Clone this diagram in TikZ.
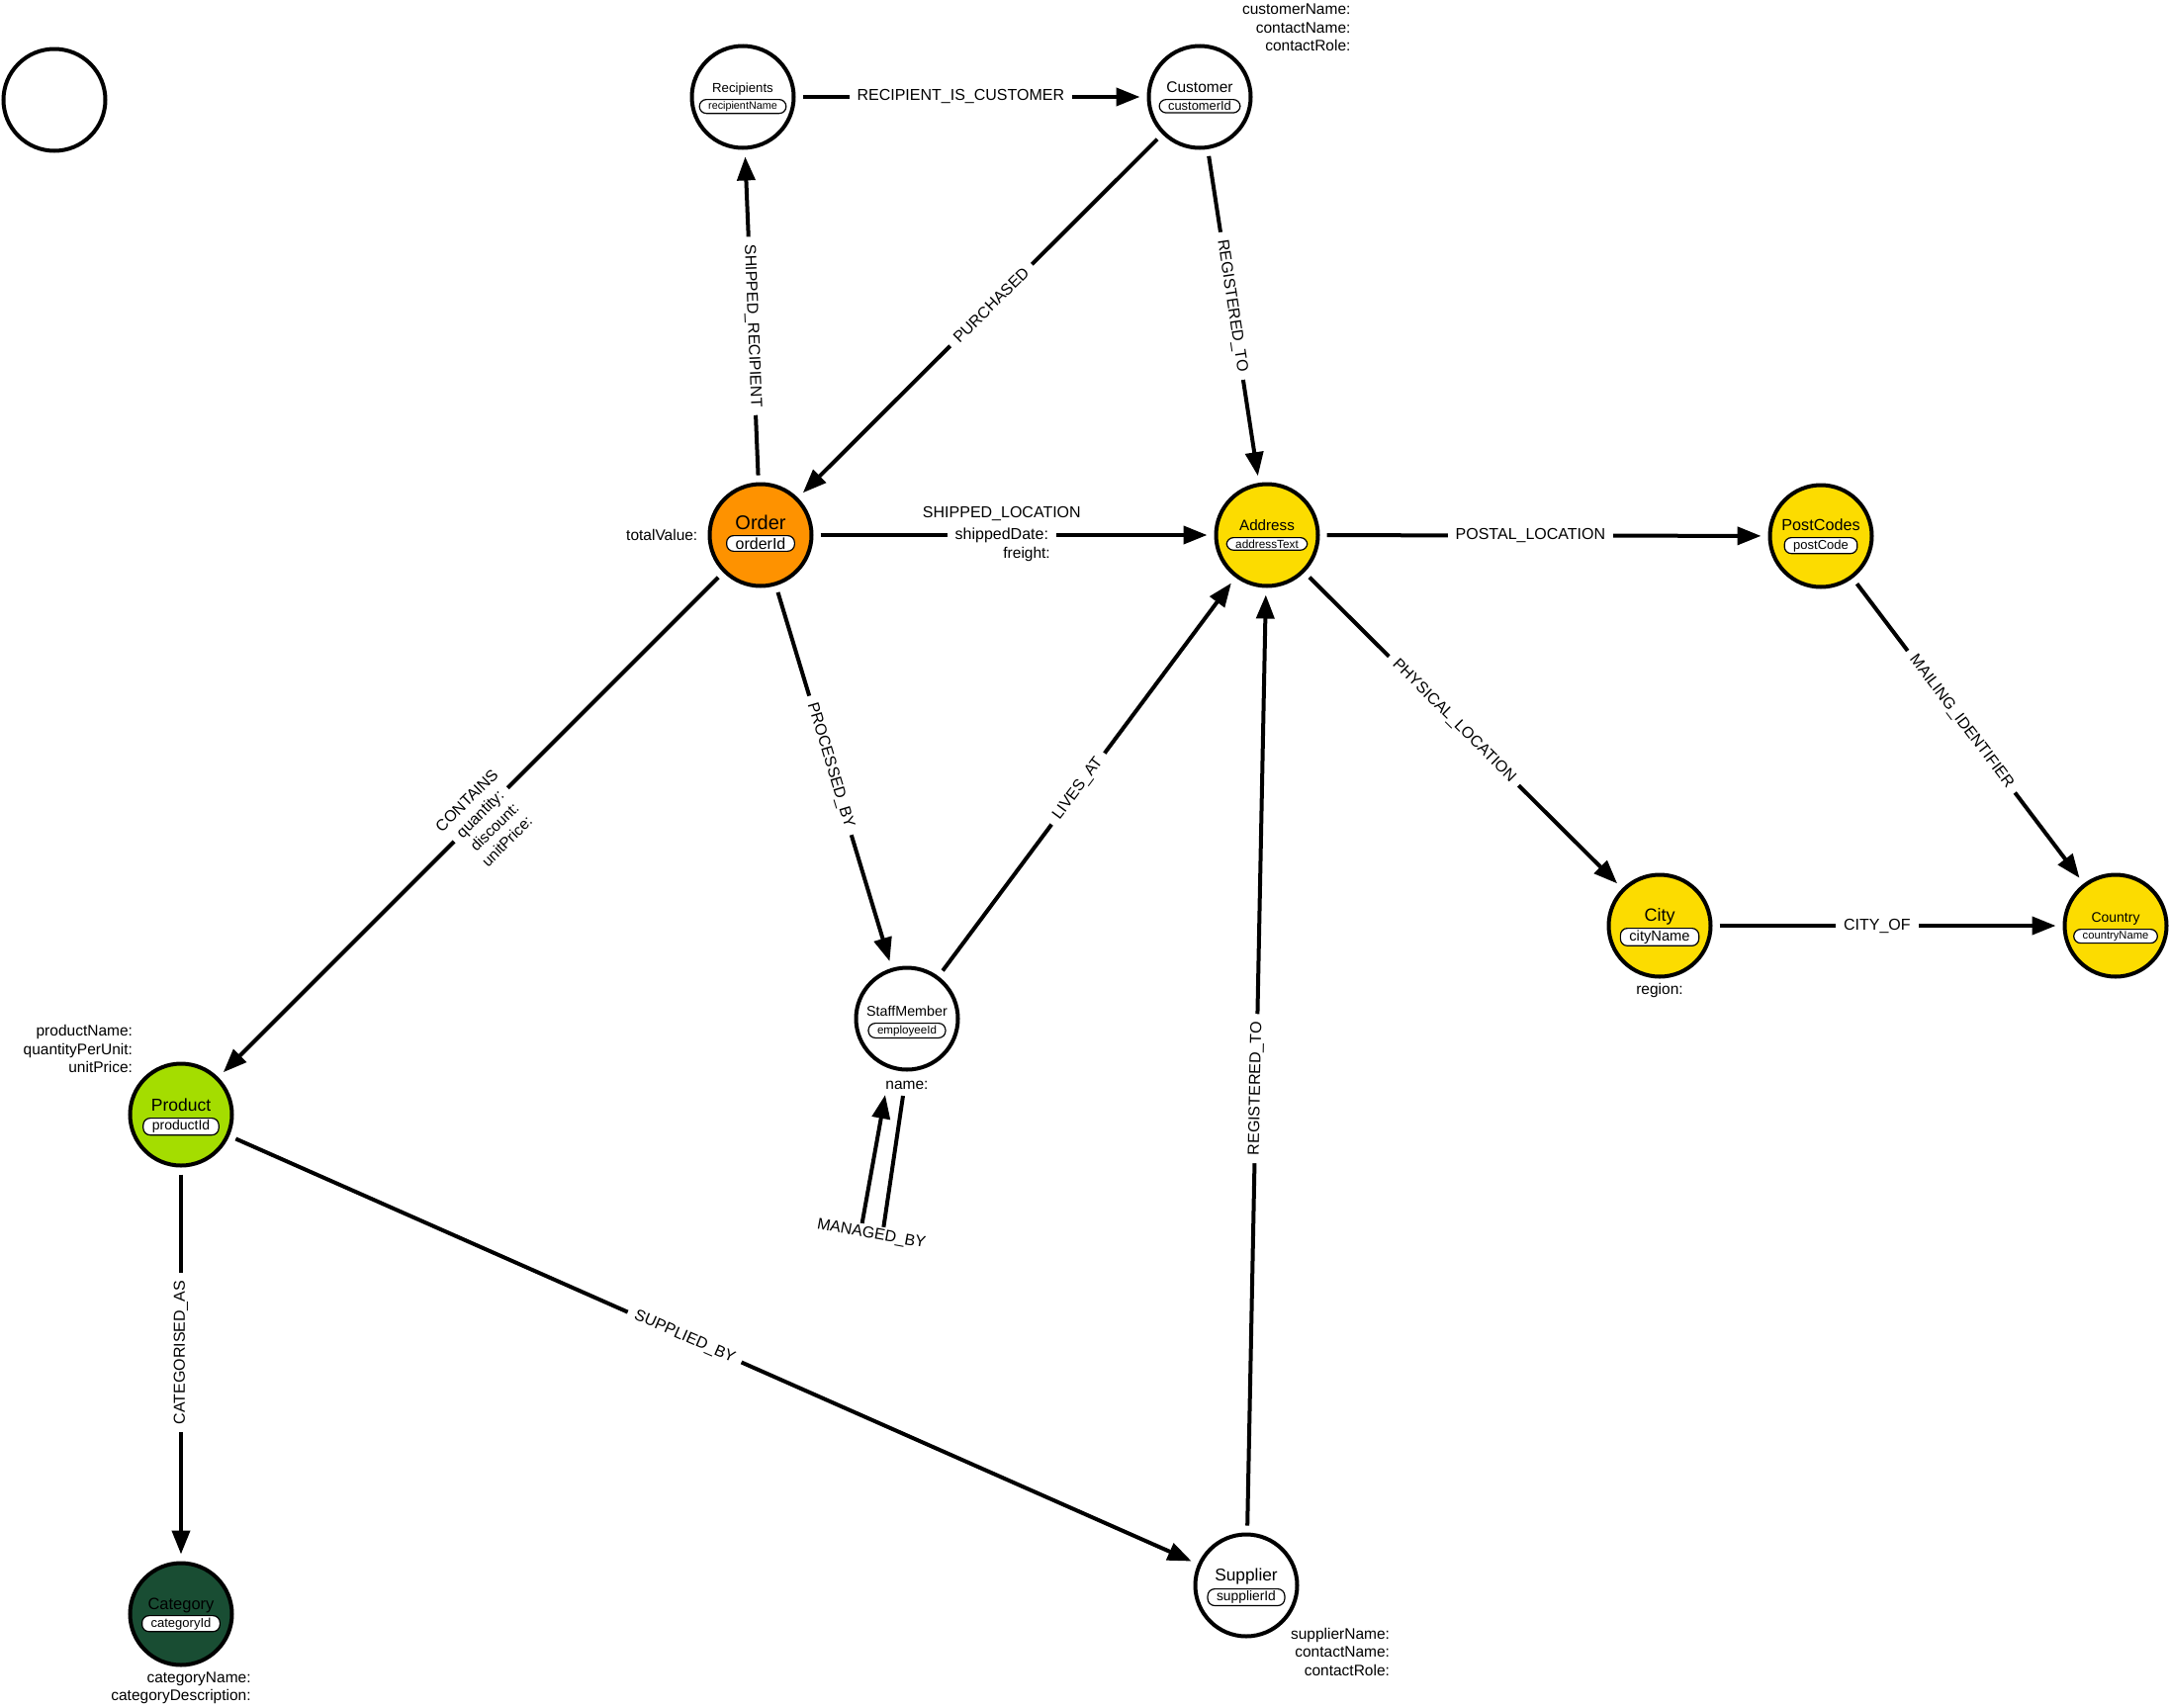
\documentclass[tikz,border=0pt]{standalone}
\usepackage{fontspec}
\setmainfont{Liberation Sans}
\usetikzlibrary{arrows.meta, positioning}
\definecolor{orderorange}{HTML}{FE9200}
\definecolor{placeyellow}{HTML}{FCDC00}
\definecolor{productlime}{HTML}{A4DD00}
\definecolor{categorygreen}{HTML}{194D33}

\begin{document}
\begin{tikzpicture}[x=1pt, y=-1pt,
  entity/.style={circle, draw=black, line width=4pt, minimum size=103pt, inner sep=0pt},
  enttitle/.style={font=\fontsize{#1}{#1}\selectfont, inner sep=0pt, anchor=base},
  entkey/.style={draw=black, fill=white, line width=1.2pt, rounded corners=7pt, inner xsep=9pt, inner ysep=2pt, anchor=north, font=\fontsize{#1}{#1}\selectfont},
  proptext/.style={font=\fontsize{15.5}{18.5}\selectfont, align=right, inner sep=1pt},
  relprops/.style={font=\fontsize{15.5}{19}\selectfont, align=right, inner xsep=8pt, inner ysep=1pt},
  rel/.style={line width=4pt, -{Triangle[length=24pt, width=18pt]}, shorten >=7pt, shorten <=7pt},
  reltype/.style={fill=white, font=\fontsize{16}{19}\selectfont, inner xsep=8pt, inner ysep=2pt},
  lbl/.style={reltype, pos=0.47}]
  \useasboundingbox (0,0) rectangle (2193,1727);

  % Entities
  \node[entity, fill=white] (blank) at (55,101) {};

  \node[entity, fill=white] (recipients) at (751,98) {};
  \node[enttitle=13.2] (recipientsTitle) at ([yshift=5pt]recipients.center) {Recipients};
  \node[entkey=10.8] (recipientsKey) at ([yshift=-7pt]recipientsTitle.base) {recipientName};

  \node[entity, fill=white] (customer) at (1213,98) {};
  \node[enttitle=15.5] (customerTitle) at ([yshift=5pt]customer.center) {Customer};
  \node[entkey=12.9] (customerKey) at ([yshift=-7pt]customerTitle.base) {customerId};

  \node[entity, fill=orderorange] (order) at (769,541) {};
  \node[enttitle=20] (orderTitle) at ([yshift=6pt]order.center) {Order};
  \node[entkey=16] (orderKey) at ([yshift=-6pt]orderTitle.base) {orderId};

  \node[entity, fill=placeyellow] (address) at (1281,541) {};
  \node[enttitle=15.2] (addressTitle) at ([yshift=5pt]address.center) {Address};
  \node[entkey=11.8] (addressKey) at ([yshift=-7pt]addressTitle.base) {addressText};

  \node[entity, fill=placeyellow] (postcodes) at (1841,542) {};
  \node[enttitle=16.2] (postcodesTitle) at ([yshift=6pt]postcodes.center) {PostCodes};
  \node[entkey=13] (postcodesKey) at ([yshift=-7pt]postcodesTitle.base) {postCode};

  \node[entity, fill=placeyellow] (city) at (1678,936) {};
  \node[enttitle=18] (cityTitle) at ([yshift=5pt]city.center) {City};
  \node[entkey=14.7] (cityKey) at ([yshift=-7pt]cityTitle.base) {cityName};

  \node[entity, fill=placeyellow] (country) at (2139,936) {};
  \node[enttitle=14] (countryTitle) at ([yshift=4pt]country.center) {Country};
  \node[entkey=11.2] (countryKey) at ([yshift=-7pt]countryTitle.base) {countryName};

  \node[entity, fill=white] (staff) at (917,1030) {};
  \node[enttitle=14.3] (staffTitle) at ([yshift=3pt]staff.center) {StaffMember};
  \node[entkey=11.6] (staffKey) at ([yshift=-7pt]staffTitle.base) {employeeId};

  \node[entity, fill=productlime] (product) at (183,1127) {};
  \node[enttitle=17.5] (productTitle) at ([yshift=4pt]product.center) {Product};
  \node[entkey=14] (productKey) at ([yshift=-7pt]productTitle.base) {productId};

  \node[entity, fill=categorygreen] (category) at (183,1632) {};
  \node[enttitle=16.5] (categoryTitle) at ([yshift=5pt]category.center) {Category};
  \node[entkey=13] (categoryKey) at ([yshift=-6pt]categoryTitle.base) {categoryId};

  \node[entity, fill=white] (supplier) at (1260,1603) {};
  \node[enttitle=17.3] (supplierTitle) at ([yshift=5pt]supplier.center) {Supplier};
  \node[entkey=13.8] (supplierKey) at ([yshift=-8pt]supplierTitle.base) {supplierId};

  % Node properties
  \node[proptext, anchor=south west] (customerProps) at ([xshift=4pt, yshift=7pt]customer.north east) {customerName:\\contactName:\\contactRole:};
  \node[proptext, left=9pt of order] (orderProps) {totalValue:};
  \node[proptext, anchor=south east] (productProps) at ([xshift=-10pt, yshift=3pt]product.north west) {productName:\\quantityPerUnit:\\unitPrice:};
  \node[proptext, anchor=north] (categoryProps) at ([yshift=-4pt]category.south) {categoryName:\\categoryDescription:};
  \node[proptext, anchor=base] (staffProps) at ([yshift=-18pt]staff.south) {name:};
  \node[proptext, anchor=base] (cityProps) at ([yshift=-16pt]city.south) {region:};
  \node[proptext, anchor=north west] (supplierProps) at ([xshift=6pt, yshift=-4pt]supplier.south east) {supplierName:\\contactName:\\contactRole:};

  % Relationships
  \draw[rel] (recipients) -- node[lbl] (ricLbl) {RECIPIENT\_IS\_CUSTOMER} (customer);
  \draw[rel] (order) -- node[lbl, sloped] (srLbl) {SHIPPED\_RECIPIENT} (recipients);
  \draw[rel] (customer) -- node[lbl, sloped] (purLbl) {PURCHASED} (order);
  \draw[rel] (customer) -- node[lbl, sloped] (crtLbl) {REGISTERED\_TO} (address);
  \draw[rel] (order) -- node[lbl] (slLbl) {shippedDate:} (address);
  \node[reltype, anchor=south, inner ysep=3pt] (slType) at (slLbl.north) {SHIPPED\_LOCATION};
  \node[relprops, anchor=north east] (slProps) at (slLbl.south east) {freight:};
  \draw[rel] (order) -- node[lbl, sloped] (pbLbl) {PROCESSED\_BY} (staff);
  \draw[rel] (staff) -- node[lbl, sloped] (laLbl) {LIVES\_AT} (address);
  \draw[rel] (supplier) -- node[lbl, sloped] (srtLbl) {REGISTERED\_TO} (address);
  \draw[rel] (address) -- node[lbl] (plLbl) {POSTAL\_LOCATION} (postcodes);
  \draw[rel] (address) -- node[lbl, sloped] (phLbl) {PHYSICAL\_LOCATION} (city);
  \draw[rel] (postcodes) -- node[lbl, sloped] (miLbl) {MAILING\_IDENTIFIER} (country);
  \draw[rel] (city) -- node[lbl] (coLbl) {CITY\_OF} (country);
  \draw[rel] (order) -- node[lbl, sloped, pos=0.48] (cQty) {quantity:} (product);
  \node[reltype, rotate=45, anchor=south, inner ysep=3pt] (cType) at (cQty.north) {CONTAINS};
  \node[relprops, rotate=45, anchor=north east] (cProps) at (cQty.south east) {discount:\\unitPrice:};
  \draw[rel] (product) -- node[lbl, sloped] (sbLbl) {SUPPLIED\_BY} (supplier);
  \draw[rel] (product) -- node[lbl, rotate=90] (caLbl) {CATEGORISED\_AS} (category);

  % Self loop on StaffMember
  \coordinate (mgdA) at (913,1108);
  \coordinate (mgdB) at (892,1250);
  \coordinate (mgdC) at (870,1246);
  \coordinate (mgdD) at (895,1107);
  \draw[rel, shorten <=0pt, shorten >=0pt, line join=round] (mgdA) -- (mgdB) -- node[lbl, sloped, pos=0.5] (mgdLbl) {MANAGED\_BY} (mgdC) -- (mgdD);
\end{tikzpicture}
\end{document}
